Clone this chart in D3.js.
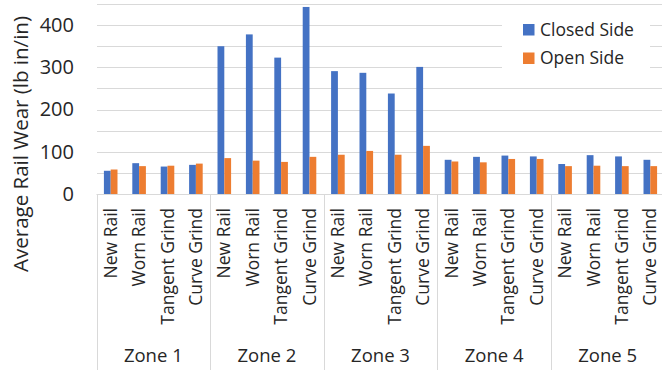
<!DOCTYPE html>
<html>
<head>
<meta charset="utf-8">
<script src="https://cdn.jsdelivr.net/npm/d3@7"></script>
<style>
  html, body { margin: 0; padding: 0; background: #fff; }
  svg { display: block; font-family: "Open Sans", sans-serif; }
</style>
</head>
<body>
<svg id="chart" width="662" height="370"></svg>
<script>
const zones = ["Zone 1", "Zone 2", "Zone 3", "Zone 4", "Zone 5"];
const categories = ["New Rail", "Worn Rail", "Tangent Grind", "Curve Grind"];
const seriesNames = ["Closed Side", "Open Side"];
const closedSide = [55, 73, 65, 69,  350, 378, 323, 443,  291, 287, 238, 301,  81, 88, 91, 89,  71, 92, 89, 81];
const openSide   = [58, 66, 67, 72,  85, 79, 76, 88,  93, 102, 93, 114,  77, 75, 83, 83,  66, 67, 66, 66];
const yTickLabels = [0, 100, 200, 300, 400];
const yGridValues = [50, 100, 150, 200, 250, 300, 350, 400, 450];
const colors = ["#4472C4", "#ED7D31"];

const svg = d3.select("#chart");
const plot = { left: 96.5, right: 664.5, top: 4, bottom: 194 };

const y = d3.scaleLinear().domain([0, 450]).range([plot.bottom, plot.top]);
const xZone = d3.scaleBand().domain(zones).range([plot.left, plot.right]).padding(0);
const xCat = d3.scaleBand().domain(categories).range([0, xZone.bandwidth()]).padding(0);
const xSer = d3.scaleBand().domain(seriesNames).range([0, xCat.bandwidth()])
  .paddingInner(0).paddingOuter(1.09);

// gridlines
const grid = svg.append("g")
  .attr("transform", `translate(${plot.left},0)`)
  .call(d3.axisLeft(y).tickValues(yGridValues).tickSize(-(plot.right - plot.left)).tickFormat(""));
grid.select(".domain").remove();
grid.selectAll("line").attr("stroke", "#D9D9D9").attr("stroke-width", 1)
  .attr("shape-rendering", "crispEdges");

// y tick labels
const yAx = svg.append("g")
  .attr("transform", `translate(74,0)`)
  .call(d3.axisLeft(y).tickValues(yTickLabels).tickSize(0).tickPadding(0));
yAx.select(".domain").remove();
yAx.selectAll("text").attr("font-size", 20).attr("fill", "#262626")
  .attr("font-family", "Open Sans, sans-serif");

// data rows
const rows = [];
zones.forEach((z, zi) => {
  categories.forEach((c, ci) => {
    const i = zi * categories.length + ci;
    rows.push({ zone: z, cat: c, values: [closedSide[i], openSide[i]] });
  });
});

// bars
const barG = svg.append("g");
rows.forEach(r => {
  const x0 = xZone(r.zone) + xCat(r.cat);
  seriesNames.forEach((s, si) => {
    barG.append("rect")
      .attr("x", x0 + xSer(s))
      .attr("width", xSer.bandwidth())
      .attr("y", y(r.values[si]))
      .attr("height", y(0) - y(r.values[si]))
      .attr("fill", colors[si]);
  });
});

// x axis baseline
svg.append("line")
  .attr("x1", plot.left).attr("x2", plot.right)
  .attr("y1", y(0) + 0.5).attr("y2", y(0) + 0.5)
  .attr("stroke", "#D9D9D9").attr("stroke-width", 1);

// zone separators
const seps = zones.map(z => xZone(z)).concat([plot.right]);
svg.append("g").selectAll("line").data(seps).join("line")
  .attr("x1", d => Math.round(d) + 0.5).attr("x2", d => Math.round(d) + 0.5)
  .attr("y1", y(0)).attr("y2", 370)
  .attr("stroke", "#D9D9D9").attr("stroke-width", 1);

// category labels
const catG = svg.append("g");
rows.forEach(r => {
  const cx = xZone(r.zone) + xCat(r.cat) + xCat.bandwidth() / 2;
  catG.append("text")
    .attr("transform", `translate(${cx + 6},208) rotate(-90)`)
    .attr("text-anchor", "end")
    .attr("font-size", 17.5)
    .attr("fill", "#262626")
    .text(r.cat);
});

// zone labels
svg.append("g").selectAll("text").data(zones).join("text")
  .attr("x", d => xZone(d) + xZone.bandwidth() / 2)
  .attr("y", 362)
  .attr("text-anchor", "middle")
  .attr("font-size", 18.5)
  .attr("fill", "#262626")
  .text(d => d);

// y-axis title
svg.append("text")
  .attr("transform", `translate(28,144) rotate(-90)`)
  .attr("text-anchor", "middle")
  .attr("font-size", 20.5)
  .attr("fill", "#262626")
  .text("Average Rail Wear (lb in/in)");

// legend
const leg = svg.append("g");
leg.append("rect").attr("x", 502).attr("y", 20).attr("width", 148).attr("height", 48).attr("fill", "#fff");
seriesNames.forEach((s, i) => {
  leg.append("rect").attr("x", 523).attr("y", 24 + i * 28.5).attr("width", 11.5).attr("height", 11.5)
    .attr("fill", colors[i]);
  leg.append("text").attr("x", 540).attr("y", 35.5 + i * 28.5)
    .attr("font-size", 17.5).attr("fill", "#262626").text(s);
});
</script>
</body>
</html>
